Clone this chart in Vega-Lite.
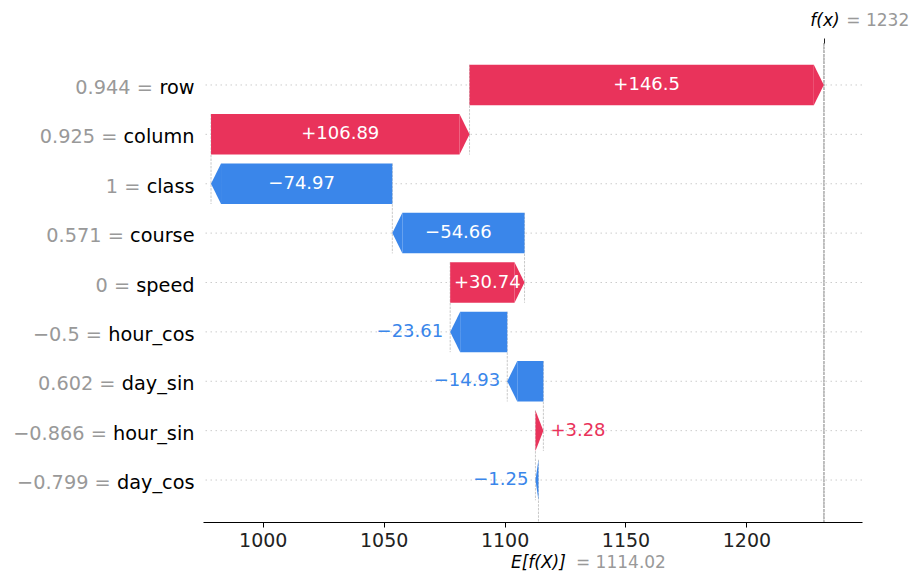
{
  "$schema": "https://vega.github.io/schema/vega-lite/v6.json",
  "width": 659,
  "height": 479,
  "autosize": {"type": "none"},
  "padding": {"left": 203, "top": 43, "right": 52, "bottom": 57},
  "background": "white",
  "config": {"view": {"stroke": null}, "font": "DejaVu Sans", "axis": {"grid": false, "title": null}},
  "data": {"values": [
    {"label": "0.944 = row", "value": 146.5, "start": 1085.51, "end": 1232.01, "txt": "+146.5"},
    {"label": "0.925 = column", "value": 106.89, "start": 978.62, "end": 1085.51, "txt": "+106.89"},
    {"label": "1 = class", "value": -74.97, "start": 1053.59, "end": 978.62, "txt": "−74.97"},
    {"label": "0.571 = course", "value": -54.66, "start": 1108.25, "end": 1053.59, "txt": "−54.66"},
    {"label": "0 = speed", "value": 30.74, "start": 1077.51, "end": 1108.25, "txt": "+30.74"},
    {"label": "−0.5 = hour_cos", "value": -23.61, "start": 1101.12, "end": 1077.51, "txt": "−23.61"},
    {"label": "0.602 = day_sin", "value": -14.93, "start": 1116.05, "end": 1101.12, "txt": "−14.93"},
    {"label": "−0.866 = hour_sin", "value": 3.28, "start": 1112.77, "end": 1116.05, "txt": "+3.28"},
    {"label": "−0.799 = day_cos", "value": -1.25, "start": 1114.02, "end": 1112.77, "txt": "−1.25"}
  ]},
  "resolve": {"axis": {"x": "independent", "y": "independent"}},
  "layer": [
    {
      "mark": {"type": "rule", "color": "#cccccc", "strokeWidth": 1, "strokeDash": [1.5, 3.5]},
      "encoding": {
        "y": {"field": "label", "type": "nominal",
          "scale": {"domain": ["0.944 = row", "0.925 = column", "1 = class", "0.571 = course", "0 = speed", "−0.5 = hour_cos", "0.602 = day_sin", "−0.866 = hour_sin", "−0.799 = day_cos"], "paddingInner": 0.18, "paddingOuter": 0.44},
          "axis": {"orient": "left", "ticks": false, "domain": false, "labelColor": "#999999", "labelFontSize": 19.3, "labelLimit": 400, "labelOffset": 3, "zindex": 0,
            "labelExpr": "slice(datum.value, 0, indexof(datum.value, ' = ') + 2)",
            "labelPadding": {"expr": "datum.value == '0.944 = row' ? 50.7 : datum.value == '0.925 = column' ? 86.2 : datum.value == '1 = class' ? 63.1 : datum.value == '0.571 = course' ? 79.7 : datum.value == '0 = speed' ? 73.4 : datum.value == '−0.5 = hour_cos' ? 101.5 : datum.value == '0.602 = day_sin' ? 88.0 : datum.value == '−0.866 = hour_sin' ? 96.7 : 92.8"}}}
      }
    },
    {
      "mark": {"type": "rule", "color": "#bbbbbb", "strokeWidth": 0.8, "strokeDash": [2.5, 1.2], "clip": true},
      "encoding": {
        "x": {"field": "start", "type": "quantitative", "axis": null},
        "y": {"field": "label", "type": "nominal", "bandPosition": 0,
          "axis": {"orient": "left", "ticks": false, "domain": false, "labelColor": "#000000", "labelFontSize": 19.3, "labelPadding": 9, "labelLimit": 400, "labelOffset": 3, "zindex": 1,
            "labelExpr": "slice(datum.value, indexof(datum.value, ' = ') + 3)"}},
        "y2": {"field": "label", "bandPosition": 2.22}
      }
    },
    {
      "mark": {"type": "rule", "color": "#bbbbbb", "strokeWidth": 0.8, "strokeDash": [2.5, 1.2]},
      "encoding": {
        "x": {"datum": 1232.01, "type": "quantitative",
          "axis": {"orient": "top", "values": [1232.01], "labelExpr": "'f(x)'", "domain": false, "ticks": true, "tickSize": 5, "tickColor": "#222222", "labelAlign": "left", "labelOffset": -14, "labelFontStyle": "italic", "labelFontSize": 17, "labelColor": "#000000", "labelPadding": 9, "zindex": 1}}
      }
    },
    {
      "transform": [{"filter": "datum.value > 4"}],
      "mark": {"type": "bar", "color": "#E9335B", "x2Offset": -10},
      "encoding": {
        "x": {"field": "start", "type": "quantitative",
          "scale": {"domain": [975.3, 1247.8], "nice": false, "zero": false},
          "axis": {"orient": "bottom", "values": [1000, 1050, 1100, 1150, 1200], "format": "d", "domain": true, "domainColor": "#000000", "domainWidth": 1.2, "ticks": true, "tickSize": 5, "tickColor": "#000000", "labelFontSize": 19, "labelColor": "#222222", "labelPadding": 4, "labelFlush": false, "zindex": 1}},
        "x2": {"field": "end"},
        "y": {"field": "label", "type": "nominal", "axis": null}
      }
    },
    {
      "transform": [{"filter": "datum.value < -4"}],
      "mark": {"type": "bar", "color": "#3A86EA", "x2Offset": 10},
      "encoding": {
        "x": {"field": "start", "type": "quantitative",
          "axis": {"orient": "bottom", "values": [1114.02], "labelExpr": "'E[f(X)]'", "domain": false, "ticks": false, "labelAlign": "left", "labelOffset": -28, "labelFontStyle": "italic", "labelFontSize": 17, "labelColor": "#000000", "labelPadding": 32, "zindex": 1}},
        "x2": {"field": "end"},
        "y": {"field": "label", "type": "nominal", "axis": null}
      }
    },
    {
      "mark": {"type": "point", "filled": true, "opacity": 1, "size": 4, "strokeWidth": 0},
      "encoding": {
        "x": {"field": "end", "type": "quantitative",
          "axis": {"orient": "top", "values": [1232.01], "labelExpr": "'= 1232'", "domain": false, "ticks": false, "labelAlign": "left", "labelOffset": 22, "labelFontSize": 17, "labelColor": "#999999", "labelPadding": 14, "zindex": 1}},
        "y": {"field": "label", "type": "nominal", "axis": null},
        "shape": {"condition": [
          {"test": "datum.value > 4", "value": "M-10,-20.25L0,0L-10,20.25Z"},
          {"test": "datum.value > 0", "value": "M-7.9,-20.25L0,0L-7.9,20.25Z"},
          {"test": "datum.value < -4", "value": "M10,-20.25L0,0L10,20.25Z"}
        ], "value": "M3,-20.25L0,0L3,20.25Z"},
        "color": {"condition": {"test": "datum.value > 0", "value": "#E9335B"}, "value": "#3A86EA"}
      }
    },
    {
      "transform": [{"filter": "abs(datum.value) > 25"}, {"fold": ["start", "end"], "as": ["edge", "pos"]}],
      "mark": {"type": "text", "color": "white", "fontSize": 18, "align": "center", "baseline": "middle"},
      "encoding": {
        "x": {"aggregate": "mean", "field": "pos", "type": "quantitative",
          "axis": {"orient": "bottom", "values": [1114.02], "labelExpr": "'= 1114.02'", "domain": false, "ticks": false, "labelAlign": "left", "labelOffset": 37, "labelFontSize": 17, "labelColor": "#999999", "labelPadding": 32, "zindex": 1}},
        "y": {"field": "label", "type": "nominal", "axis": null},
        "text": {"field": "txt", "type": "nominal"}
      }
    },
    {
      "transform": [{"filter": "datum.value > 0 && datum.value <= 25"}],
      "mark": {"type": "text", "color": "#E9335B", "fontSize": 18, "align": "left", "baseline": "middle", "dx": 7},
      "encoding": {
        "x": {"field": "end", "type": "quantitative", "axis": null},
        "y": {"field": "label", "type": "nominal", "axis": null},
        "text": {"field": "txt", "type": "nominal"}
      }
    },
    {
      "transform": [{"filter": "datum.value < 0 && datum.value >= -25"}],
      "mark": {"type": "text", "color": "#3A86EA", "fontSize": 18, "align": "right", "baseline": "middle", "dx": -7},
      "encoding": {
        "x": {"field": "end", "type": "quantitative", "axis": null},
        "y": {"field": "label", "type": "nominal", "axis": null},
        "text": {"field": "txt", "type": "nominal"}
      }
    }
  ]
}
